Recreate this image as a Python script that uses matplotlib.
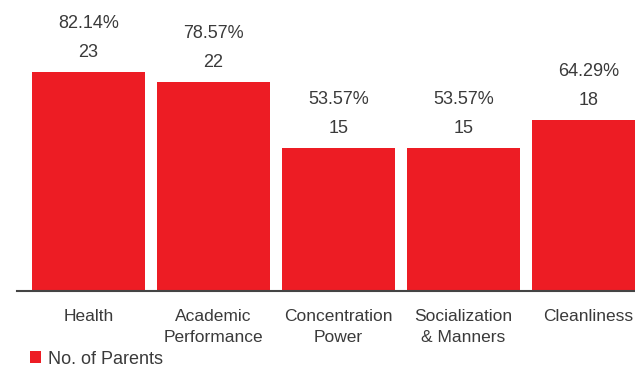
import matplotlib
matplotlib.use("Agg")
import matplotlib.pyplot as plt

categories = ["Health", "Academic\nPerformance", "Concentration\nPower",
              "Socialization\n& Manners", "Cleanliness"]
parents = [23, 22, 15, 15, 18]
total_parents = 28

RED = "#ED1C24"
TEXT = "#3a3a3a"

plt.rcParams["font.family"] = ["Liberation Sans", "DejaVu Sans"]

W, H = 635, 370
fig = plt.figure(figsize=(W / 100, H / 100), dpi=100)
# baseline sits at y=291px, axes runs from x=17px to the right edge
ax = fig.add_axes([17 / W, 79 / H, (W - 17) / W, 291 / H])

xs = list(range(len(categories)))
bars = ax.bar(xs, parents, width=0.904, color=RED, label="No. of Parents", zorder=2)

for x, v in zip(xs, parents):
    ax.annotate(f"{v}", (x, v), xytext=(0, 14), textcoords="offset points",
                ha="center", va="center", fontsize=13, color=TEXT)
    ax.annotate(f"{v / total_parents * 100:.2f}%", (x, v), xytext=(0, 34.8),
                textcoords="offset points", ha="center", va="center",
                fontsize=13, color=TEXT)

ax.set_xlim(-0.572, 4.372)
ax.set_ylim(0, 30.56)
ax.set_xticks(xs)
ax.set_xticklabels(categories, fontsize=12.5, color=TEXT, linespacing=1.5)
ax.tick_params(axis="x", length=0, pad=13)
ax.set_yticks([])

for side in ["top", "right", "left"]:
    ax.spines[side].set_visible(False)
ax.spines["bottom"].set_color("#444444")
ax.spines["bottom"].set_linewidth(1.5)
ax.spines["bottom"].set_zorder(3)

ax.legend(handles=[bars], loc="center left", bbox_to_anchor=(30 / W, 11 / H),
          bbox_transform=fig.transFigure, frameon=False, fontsize=13,
          handlelength=0.62, handleheight=0.62, handletextpad=0.35,
          borderaxespad=0, borderpad=0, labelcolor=TEXT)

fig.savefig("out.png", dpi=100)
